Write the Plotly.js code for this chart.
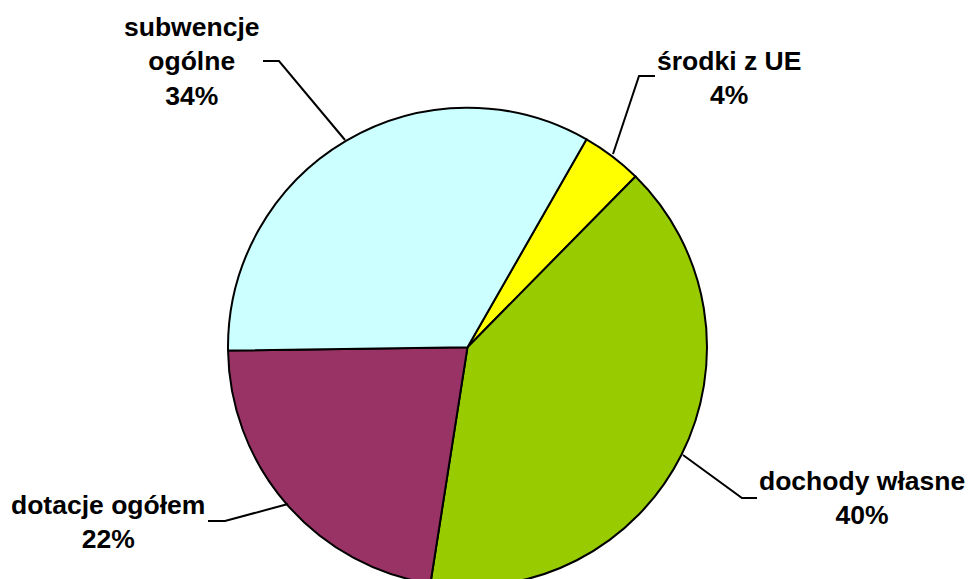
<!DOCTYPE html>
<html>
<head>
<meta charset="utf-8">
<script src="https://cdn.plot.ly/plotly-3.0.1.min.js"></script>
<style>
html,body{margin:0;padding:0;overflow:hidden;background:#fff;}
#chart{width:969px;height:600px;}
</style>
</head>
<body>
<div id="chart"></div>
<script>
// Slice order clockwise, starting at the top-right slice
var categories = ["środki z UE", "dochody własne", "dotacje ogółem", "subwencje ogólne"];
var shares = [4.1, 40.1, 22.3, 33.5];           // slice sizes (%)
var pctLabels = ["4%", "40%", "22%", "34%"];      // percentages printed in the labels
var labelLines = [["środki z UE"], ["dochody własne"], ["dotacje ogółem"], ["subwencje", "ogólne"]];
var colors = ["#FFFF00", "#99CC00", "#993366", "#CCFFFF"];

var W = 969, H = 600;
function px(x) { return x / W; }
function py(y) { return 1 - y / H; }

// label placement (pixel centres) and leader-line paths
var labelPos = [[729, 78], [862, 498], [108, 522], [192, 62]];
var leaders = [
  [[655, 76], [639, 76], [613, 154]],
  [[683, 455], [742, 498], [757, 498]],
  [[208, 521], [225, 521], [288, 504]],
  [[263, 61], [279, 61], [345, 140]]
];

var annotations = categories.map(function (c, i) {
  var lines = labelLines[i].concat([pctLabels[i]]).map(function (s) { return "<b>" + s + "</b>"; });
  return {
    xref: "paper", yref: "paper",
    x: px(labelPos[i][0]), y: py(labelPos[i][1]),
    xanchor: "center", yanchor: "middle",
    text: lines.join("<br>"),
    showarrow: false,
    font: {family: "Liberation Sans, Arial, sans-serif", size: 26.5, color: "#000"},
    align: "center"
  };
});

var shapes = leaders.map(function (pts) {
  var d = pts.map(function (p, k) {
    return (k === 0 ? "M " : "L ") + px(p[0]) + "," + py(p[1]);
  }).join(" ");
  return {type: "path", xref: "paper", yref: "paper", path: d,
          line: {color: "#000", width: 2}};
});

var trace = {
  type: "pie",
  labels: categories,
  values: shares,
  sort: false,
  direction: "clockwise",
  rotation: 29.8,
  textinfo: "none",
  hoverinfo: "none",
  marker: {colors: colors, line: {color: "#000", width: 2}},
  domain: {x: [0.2353, 0.7296], y: [0.0222, 0.8205]},
  showlegend: false
};

var layout = {
  width: W, height: H,
  margin: {l: 0, r: 0, t: 0, b: 0},
  paper_bgcolor: "#fff",
  plot_bgcolor: "#fff",
  showlegend: false,
  annotations: annotations,
  shapes: shapes
};

Plotly.newPlot("chart", [trace], layout, {displayModeBar: false, staticPlot: true});
</script>
</body>
</html>
